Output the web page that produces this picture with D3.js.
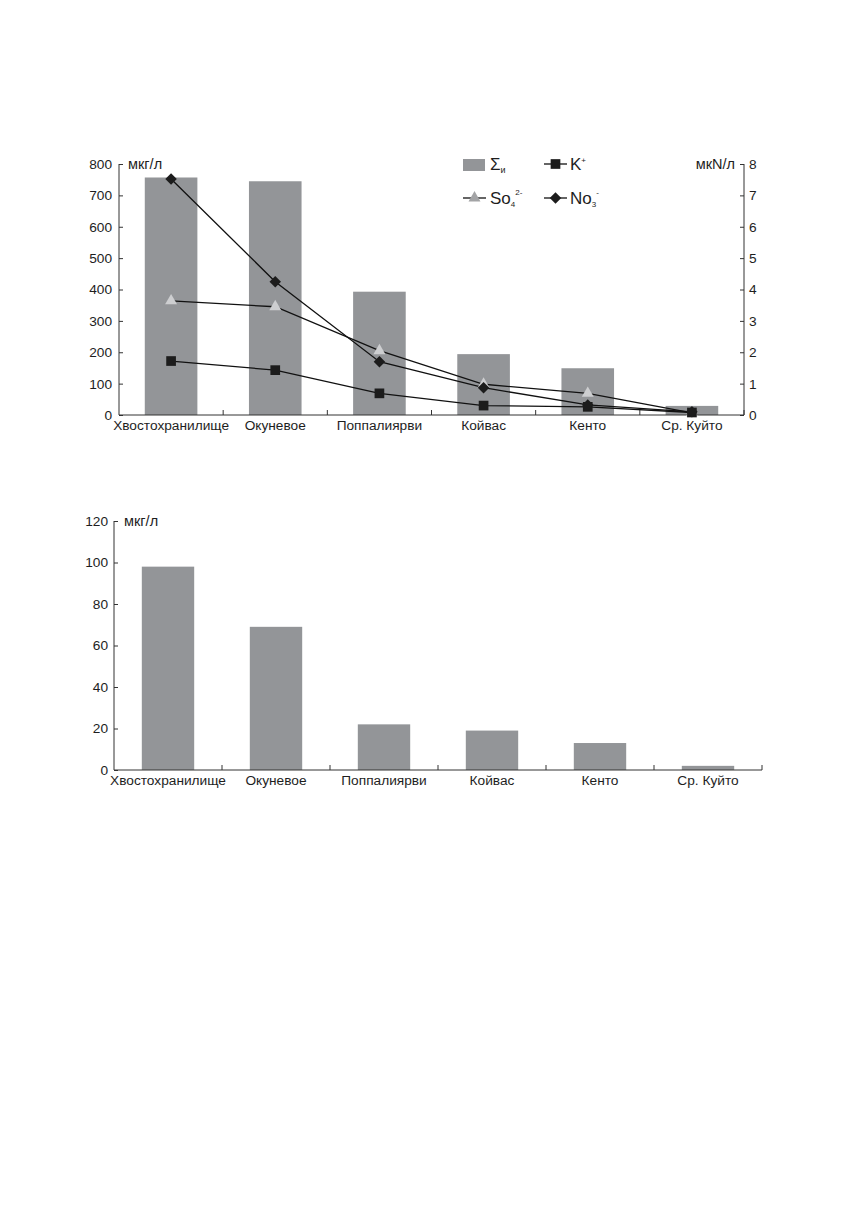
<!DOCTYPE html>
<meta charset="utf-8">
<body style="margin:0;background:#fff">
<script src="https://d3js.org/d3.v7.min.js"></script>
<script>

// data
var lakes = ['Хвостохранилище', 'Окуневое', 'Поппалиярви', 'Койвас', 'Кенто', 'Ср. Куйто'];
var sumI = [757, 745, 393, 194, 149, 29];       // Σи, мкг/л (left axis)
var kPlus = [1.72, 1.43, 0.69, 0.30, 0.26, 0.08]; // K+, мкN/л (right axis)
var so4 = [3.64, 3.45, 2.05, 0.98, 0.69, 0.07];   // SO4 2-
var no3 = [7.52, 4.25, 1.70, 0.87, 0.32, 0.10];   // NO3 -
var leftTicks = [0, 100, 200, 300, 400, 500, 600, 700, 800];
var rightTicks = [0, 1, 2, 3, 4, 5, 6, 7, 8];

var lower = [98, 69, 22, 19, 13, 2];             // мкг/л, second chart
var lowerTicks = [0, 20, 40, 60, 80, 100, 120];

var FONT = 'Liberation Sans, Arial, sans-serif';
var BAR = '#939598';
var TXT = '#1e1e1e';

var svg = d3.select('body').append('svg')
  .attr('width', 856).attr('height', 1227)
  .style('font-family', FONT);

// helper: category axis with ticks pointing up at band edges
function catAxis(g, x, y0, x0, x1) {
  g.append('line').attr('x1', x0).attr('x2', x1).attr('y1', y0).attr('y2', y0)
    .attr('stroke', '#333').attr('stroke-width', 1);
  var edges = lakes.map(d => x(d) + x.step());
  g.selectAll('.ct').data(edges).enter().append('line')
    .attr('x1', d => d).attr('x2', d => d)
    .attr('y1', y0).attr('y2', y0 - 5)
    .attr('stroke', '#333');
  g.selectAll('.cl').data(lakes).enter().append('text')
    .attr('x', d => x(d) + x.bandwidth() / 2)
    .attr('y', y0 + 14.5)
    .attr('text-anchor', 'middle')
    .attr('font-size', 13.7)
    .attr('fill', TXT)
    .text(d => d);
}

// ---------- top chart ----------
var T = {x0: 119, x1: 744, y0: 415, y1: 164};
var xT = d3.scaleBand().domain(lakes).range([T.x0, T.x1]).paddingInner(0).paddingOuter(0);
var yL = d3.scaleLinear().domain([0, 800]).range([T.y0, T.y1]);
var yR = d3.scaleLinear().domain([0, 8]).range([T.y0, T.y1]);
var gTop = svg.append('g');
var bw = xT.step() * 0.505;

gTop.selectAll('.bar').data(sumI).enter().append('rect')
  .attr('x', (d, i) => xT(lakes[i]) + (xT.step() - bw) / 2)
  .attr('width', bw)
  .attr('y', d => yL(d))
  .attr('height', d => yL(0) - yL(d))
  .attr('fill', BAR);

var axL = gTop.append('g').attr('transform', `translate(${T.x0},0)`)
  .call(d3.axisRight(yL).tickValues(leftTicks).tickSize(4).tickFormat(d3.format('d')));
axL.selectAll('text').remove();
axL.select('.domain').remove();
axL.append('line').attr('y1', T.y0).attr('y2', T.y1).attr('stroke', '#333');
axL.selectAll('line').attr('stroke', '#333');
gTop.selectAll('.ll').data(leftTicks).enter().append('text')
  .attr('x', T.x0 - 7).attr('y', d => yL(d)).attr('dy', '0.36em')
  .attr('text-anchor', 'end').attr('font-size', 13.7).attr('fill', TXT)
  .text(d => d);

var axR = gTop.append('g').attr('transform', `translate(${T.x1},0)`)
  .call(d3.axisLeft(yR).tickValues(rightTicks).tickSize(4));
axR.selectAll('text').remove();
axR.select('.domain').remove();
axR.append('line').attr('y1', T.y0).attr('y2', T.y1).attr('stroke', '#333');
axR.selectAll('line').attr('stroke', '#333');
gTop.selectAll('.rl').data(rightTicks).enter().append('text')
  .attr('x', T.x1 + 5).attr('y', d => yR(d)).attr('dy', '0.36em')
  .attr('font-size', 13.7).attr('fill', TXT)
  .text(d => d);

catAxis(gTop, xT, T.y0, T.x0, T.x1);

gTop.append('text').attr('x', 128).attr('y', T.y1).attr('dy', '0.36em')
  .attr('font-size', 14.5).attr('fill', TXT).text('мкг/л');
gTop.append('text').attr('x', 735).attr('y', T.y1).attr('dy', '0.36em')
  .attr('text-anchor', 'end').attr('font-size', 14.5).attr('fill', TXT).text('мкN/л');

var cx = i => xT(lakes[i]) + xT.step() / 2;
var line = d3.line().x((d, i) => cx(i)).y(d => yR(d));
var sym = {
  k: d3.symbol().type(d3.symbolSquare).size(94),
  so: d3.symbol().type(d3.symbolTriangle).size(62),
  no: d3.symbol().type(d3.symbolSquare).size(66)
};
var rot = {k: 0, so: 0, no: 45};
var series = [
  {v: so4, s: 'so', f: '#cdced0'},
  {v: kPlus, s: 'k', f: '#1c1c1c'},
  {v: no3, s: 'no', f: '#1c1c1c'}
];
series.forEach(function (S) {
  gTop.append('path').attr('d', line(S.v)).attr('fill', 'none')
    .attr('stroke', '#111').attr('stroke-width', 1.3);
});
series.forEach(function (S) {
  gTop.selectAll(null).data(S.v).enter().append('path')
    .attr('d', sym[S.s])
    .attr('transform', (d, i) => `translate(${cx(i)},${yR(d)}) rotate(${rot[S.s]})`)
    .attr('fill', S.f);
});

// legend
var lg = gTop.append('g').attr('font-size', 17).attr('fill', TXT);
lg.append('rect').attr('x', 463).attr('y', 159).attr('width', 22).attr('height', 12).attr('fill', BAR);
var t1 = lg.append('text').attr('x', 490).attr('y', 170);
t1.append('tspan').text('Σ');
t1.append('tspan').attr('font-size', 9).attr('dy', 3).text('и');

function legLine(x, y, s, f) {
  lg.append('line').attr('x1', x).attr('x2', x + 23).attr('y1', y).attr('y2', y)
    .attr('stroke', '#111').attr('stroke-width', 1.3);
  lg.append('path').attr('d', sym[s])
    .attr('transform', `translate(${x + 11.5},${y}) rotate(${rot[s]})`).attr('fill', f);
}
legLine(544, 164, 'k', '#1c1c1c');
var t2 = lg.append('text').attr('x', 570).attr('y', 170);
t2.append('tspan').text('K');
t2.append('tspan').attr('font-size', 8).attr('dy', -7).text('+');

legLine(463, 198, 'so', '#a3a4a6');
var t3 = lg.append('text').attr('x', 490).attr('y', 204);
t3.append('tspan').text('So');
t3.append('tspan').attr('font-size', 8).attr('dy', 3).text('4');
t3.append('tspan').attr('font-size', 8).attr('dy', -12).text('2-');

legLine(544, 198, 'no', '#1c1c1c');
var t4 = lg.append('text').attr('x', 570).attr('y', 204);
t4.append('tspan').text('No');
t4.append('tspan').attr('font-size', 8).attr('dy', 3).text('3');
t4.append('tspan').attr('font-size', 8).attr('dy', -12).text('-');

// ---------- bottom chart ----------
var B = {x0: 114, x1: 762, y0: 770, y1: 521};
var xB = d3.scaleBand().domain(lakes).range([B.x0, B.x1]);
var yB = d3.scaleLinear().domain([0, 120]).range([B.y0, B.y1]);
var gBot = svg.append('g');
var bw2 = xB.step() * 0.485;

gBot.selectAll('.bar').data(lower).enter().append('rect')
  .attr('x', (d, i) => xB(lakes[i]) + (xB.step() - bw2) / 2)
  .attr('width', bw2)
  .attr('y', d => yB(d))
  .attr('height', d => yB(0) - yB(d))
  .attr('fill', BAR);

var axB = gBot.append('g').attr('transform', `translate(${B.x0},0)`)
  .call(d3.axisRight(yB).tickValues(lowerTicks).tickSize(4));
axB.selectAll('text').remove();
axB.select('.domain').remove();
axB.append('line').attr('y1', B.y0).attr('y2', B.y1).attr('stroke', '#333');
axB.selectAll('line').attr('stroke', '#333');
gBot.selectAll('.bl').data(lowerTicks).enter().append('text')
  .attr('x', B.x0 - 6).attr('y', d => yB(d)).attr('dy', '0.36em')
  .attr('text-anchor', 'end').attr('font-size', 13.7).attr('fill', TXT)
  .text(d => d);

catAxis(gBot, xB, B.y0, B.x0, B.x1);
gBot.append('text').attr('x', 124).attr('y', B.y1).attr('dy', '0.36em')
  .attr('font-size', 14.5).attr('fill', TXT).text('мкг/л');

</script>
</body>
</html>
